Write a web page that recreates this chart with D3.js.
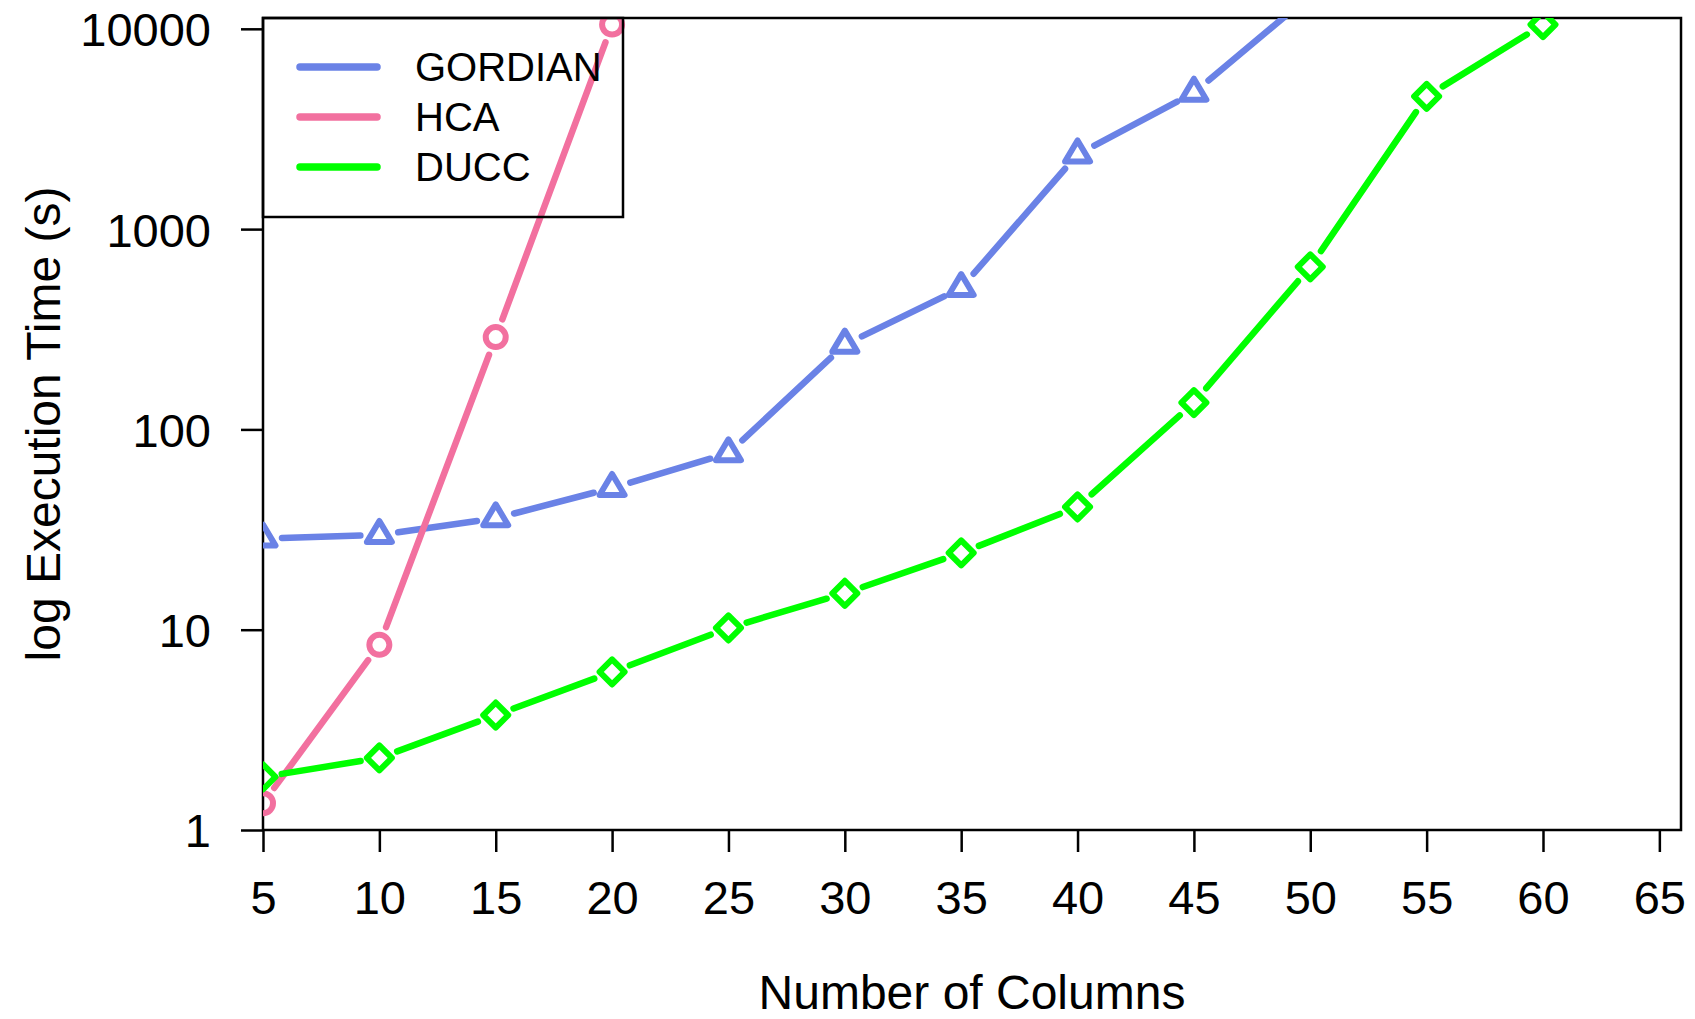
<!DOCTYPE html>
<html>
<head>
<meta charset="utf-8">
<script src="https://cdn.jsdelivr.net/npm/d3@7"></script>
<style>
  html, body { margin: 0; padding: 0; background: #ffffff; }
  svg { display: block; }
  text { font-family: "Liberation Sans", Arial, Helvetica, sans-serif; fill: #000; }
</style>
</head>
<body>
<svg id="chart" width="1695" height="1019"></svg>
<script>
// ---------- data ----------
const xTicks = [5, 10, 15, 20, 25, 30, 35, 40, 45, 50, 55, 60, 65];
const yTicks = [1, 10, 100, 1000, 10000];
const seriesNames = ["GORDIAN", "HCA", "DUCC"];
const seriesColors = ["#6A82E6", "#F2709F", "#00FF00"];
const seriesShapes = ["triangle", "circle", "diamond"];

const gordianCols = [5, 10, 15, 20, 25, 30, 35, 40, 45, 50];
const gordianTime = [28.5, 29.7, 36, 51, 76, 265, 508, 2360, 4800, 14700];

const hcaCols = [5, 10, 15, 20];
const hcaTime = [1.36, 8.4, 289, 10500];

const duccCols = [5, 10, 15, 20, 25, 30, 35, 40, 45, 50, 55, 60];
const duccTime = [1.84, 2.29, 3.75, 6.15, 10.2, 15.2, 24.2, 41, 136, 648, 4600, 10500];

const xTitle = "Number of Columns";
const yTitle = "log Execution Time (s)";

// ---------- layout ----------
const svg = d3.select("#chart");
const L = 263, R = 1681, T = 18, B = 830;

const x = d3.scaleLinear().domain([5, 65.93]).range([L, R]);
const y = d3.scaleLog().domain([1, Math.pow(10, 4.054)]).range([B, T]);

svg.append("defs").append("clipPath").attr("id", "plotClip")
  .append("rect").attr("x", L).attr("y", T).attr("width", R - L).attr("height", B - T);

// ---------- axes ----------
const xAxis = d3.axisBottom(x).tickValues(xTicks).tickSize(22).tickPadding(10).tickFormat(d3.format("d"));
const gx = svg.append("g").attr("transform", `translate(0,${B})`).call(xAxis);
gx.select(".domain").remove();
gx.selectAll(".tick line").attr("stroke", "#000").attr("stroke-width", 2.5);
gx.selectAll(".tick text").attr("font-size", 47).attr("dy", null).attr("y", 84)
  .attr("font-family", "'Liberation Sans', Arial, sans-serif");

const yAxis = d3.axisLeft(y).tickValues(yTicks).tickSize(22).tickPadding(30).tickFormat(d3.format("d"));
const gy = svg.append("g").attr("transform", `translate(${L},0)`).call(yAxis);
gy.select(".domain").remove();
gy.selectAll(".tick line").attr("stroke", "#000").attr("stroke-width", 2.5);
gy.selectAll(".tick text").attr("font-size", 47).attr("dy", "0.36em")
  .attr("font-family", "'Liberation Sans', Arial, sans-serif");

// plot frame
svg.append("rect").attr("x", L).attr("y", T).attr("width", R - L).attr("height", B - T)
  .attr("fill", "none").attr("stroke", "#000").attr("stroke-width", 2.5);

// titles
svg.append("text").attr("x", (L + R) / 2).attr("y", 1009).attr("text-anchor", "middle")
  .attr("font-size", 48).text(xTitle);
svg.append("text").attr("transform", `translate(43,${(T + B) / 2}) rotate(-90)`)
  .attr("text-anchor", "middle").attr("dominant-baseline", "central")
  .attr("font-size", 48).text(yTitle);

// ---------- series ----------
const series = [
  { cols: gordianCols, vals: gordianTime },
  { cols: hcaCols, vals: hcaTime },
  { cols: duccCols, vals: duccTime }
];

const plot = svg.append("g").attr("clip-path", "url(#plotClip)");
const GAP = 19;
const LW = 6.5;

function markerPath(shape) {
  if (shape === "triangle") {
    const r = 14, xc = 12.5, yc = 7;
    return `M0,${-r}L${xc},${yc}L${-xc},${yc}Z`;
  }
  if (shape === "diamond") {
    const d = 12.5;
    return `M0,${-d}L${d},0L0,${d}L${-d},0Z`;
  }
  return null;
}

series.forEach((s, i) => {
  const color = seriesColors[i];
  const pts = s.cols.map((c, k) => [x(c), y(s.vals[k])]);
  const g = plot.append("g");
  // segments with gaps around points (R type = "b")
  for (let k = 0; k < pts.length - 1; k++) {
    const [x0, y0] = pts[k], [x1, y1] = pts[k + 1];
    const dx = x1 - x0, dy = y1 - y0, d = Math.hypot(dx, dy);
    if (d <= 2 * GAP) continue;
    const ux = dx / d, uy = dy / d;
    g.append("path")
      .attr("d", d3.line()([[x0 + ux * GAP, y0 + uy * GAP], [x1 - ux * GAP, y1 - uy * GAP]]))
      .attr("stroke", color).attr("stroke-width", LW).attr("stroke-linecap", "round")
      .attr("fill", "none");
  }
  // markers
  const shape = seriesShapes[i];
  pts.forEach(([px, py]) => {
    if (shape === "circle") {
      g.append("circle").attr("cx", px).attr("cy", py).attr("r", 10)
        .attr("fill", "none").attr("stroke", color).attr("stroke-width", 6);
    } else {
      g.append("path").attr("d", markerPath(shape))
        .attr("transform", `translate(${px},${py})`)
        .attr("fill", "none").attr("stroke", color).attr("stroke-width", 6)
        .attr("stroke-linejoin", "round");
    }
  });
});

// ---------- legend ----------
const legend = svg.append("g");
legend.append("rect").attr("x", L).attr("y", T).attr("width", 623 - L).attr("height", 217 - T)
  .attr("fill", "none").attr("stroke", "#000").attr("stroke-width", 2.5);
seriesNames.forEach((name, i) => {
  const ly = 67 + i * 50;
  legend.append("line").attr("x1", 300).attr("x2", 377).attr("y1", ly).attr("y2", ly)
    .attr("stroke", seriesColors[i]).attr("stroke-width", 7.5).attr("stroke-linecap", "round");
  legend.append("text").attr("x", 415).attr("y", ly).attr("dy", "0.36em")
    .attr("font-size", 40).text(name);
});
</script>
</body>
</html>
